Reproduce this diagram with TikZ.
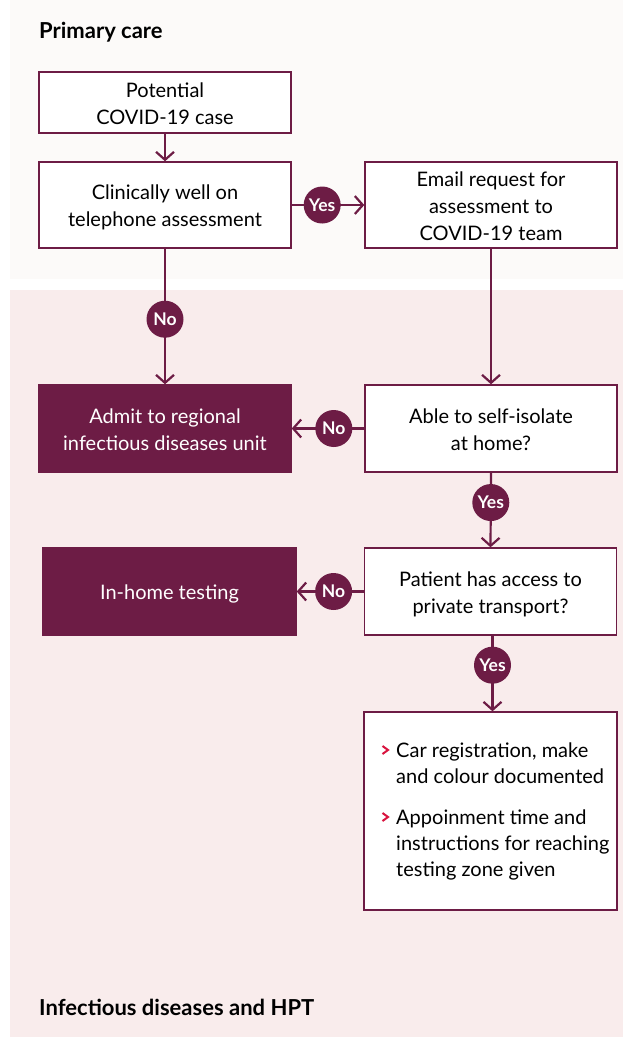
\documentclass[tikz,border=0pt]{standalone}
\usepackage{fontspec}
\setmainfont{Lato}
\usetikzlibrary{arrows.meta}
\definecolor{maroon}{HTML}{6D1C45}
\definecolor{topbg}{HTML}{FCFAF9}
\definecolor{pinkbg}{HTML}{F9ECEC}
\definecolor{bulletred}{HTML}{D9143F}
\newcommand\btext[1]{\raisebox{-3pt}[\height][\depth]{\begin{tabular}{@{}c@{}}#1\end{tabular}}}
\begin{document}
\begin{tikzpicture}[x=1pt,y=-1pt,
  boxtext/.style={font=\fontsize{20}{27}\selectfont, align=center},
  wbox/.style={boxtext, draw=maroon, line width=1.4pt, fill=white, minimum width=252pt, inner sep=0pt},
  fbox/.style={boxtext, draw=maroon, line width=1.4pt, fill=maroon, text=white, minimum width=252pt, inner sep=0pt},
  conn/.style={draw=maroon, line width=2.2pt, -{Straight Barb[length=8pt,width=18pt,line width=2.2pt]}},
  badge/.style={circle, fill=maroon, text=white, minimum size=37pt, inner sep=0pt, font=\fontsize{17.5}{20}\selectfont\bfseries},
  heading/.style={font=\fontsize{22}{24}\selectfont\bfseries, anchor=west, inner sep=0pt},
  bullettext/.style={font=\fontsize{20}{26}\selectfont, align=left, anchor=north west, inner sep=0pt},
  chevron/.style={draw=bulletred, line width=2pt}
]
\useasboundingbox (0,0) rectangle (623,1037);
\fill[topbg] (10,0) rectangle (623,279);
\fill[pinkbg] (10,290) rectangle (623,1037);

\node[heading] (h1) at (39,32) {Primary care};
\node[heading] (h2) at (39,1007) {Infectious diseases and HPT};

\node[wbox, minimum height=61pt] (pot) at (165,102.5) {\btext{Potential\\COVID-19 case}};
\node[wbox, minimum height=86pt] (clin) at (165,205) {\btext{Clinically well on\\telephone assessment}};
\node[wbox, minimum height=86pt] (email) at (491,205) {\btext{Email request for\\assessment to\\COVID-19 team}};
\node[fbox, minimum height=87pt] (admit) at (165,428.5) {\btext{Admit to regional\\infectious diseases unit}};
\node[wbox, minimum height=87pt] (able) at (491,428.5) {\btext{Able to self-isolate\\at home?}};
\node[fbox, minimum height=87pt, minimum width=253pt] (home) at (169.5,591.5) {\btext{In-home testing}};
\node[wbox, minimum height=87pt] (pat) at (490.5,591.5) {\btext{Patient has access to\\private transport?}};
\node[wbox, minimum height=198pt, minimum width=253pt] (fin) at (490.5,811) {};

\node[bullettext] (b1) at (396,743) {Car registration, make\\and colour documented};
\node[bullettext] (b2) at (396,810) {Appoinment time and\\instructions for reaching\\testing zone given};
\draw[chevron] (382.5,746) -- (388,750) -- (382.5,754);
\draw[chevron] (382.5,813) -- (388,817) -- (382.5,821);

\draw[conn] (pot.south) -- (clin.north);
\draw[conn] (clin.east) -- node[badge, pos=0.42] (y1) {Yes} (email.west);
\draw[conn] (clin.south) -- node[badge, pos=0.52] (n1) {No} (admit.north);
\draw[conn] (email.south) -- (able.north);
\draw[conn] (able.west) -- node[badge, pos=0.42] (n2) {No} (admit.east);
\draw[conn] (able.south) -- node[badge, pos=0.4] (y2) {Yes} (pat.north);
\draw[conn] (pat.west) -- node[badge, pos=0.45] (n3) {No} (home.east);
\draw[conn] ([xshift=2pt]pat.south) -- node[badge, pos=0.39] (y3) {Yes} ([xshift=2pt]fin.north);
\end{tikzpicture}
\end{document}
